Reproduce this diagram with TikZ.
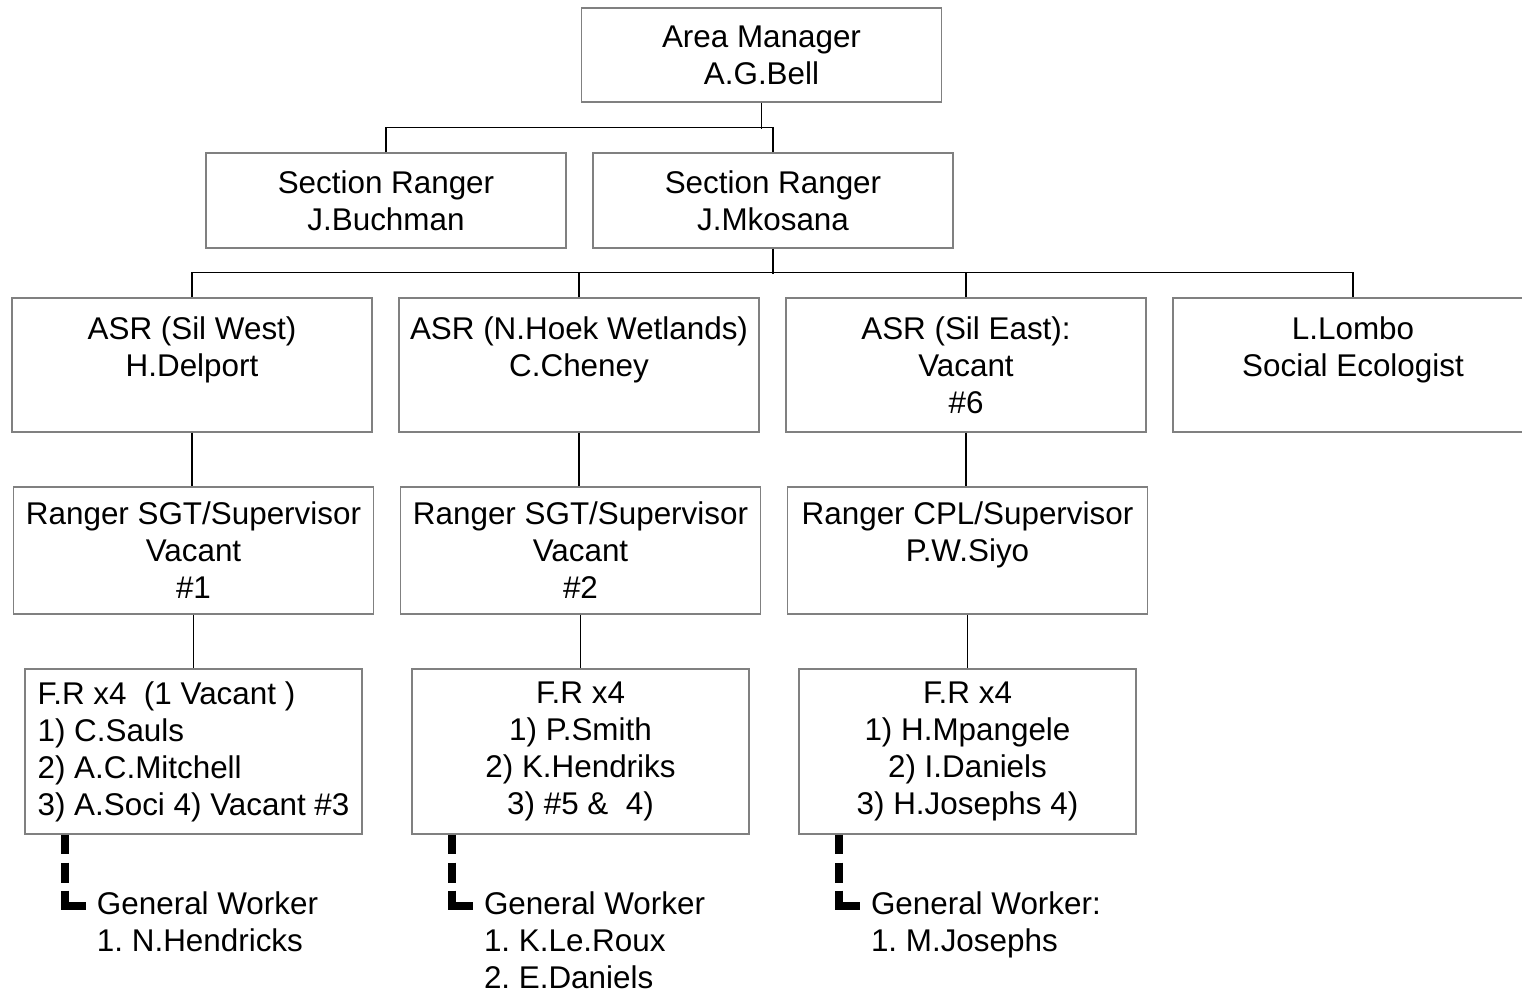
\documentclass[tikz,border=0pt]{standalone}
\usepackage{fontspec}
\setmainfont{Liberation Sans}
\usepackage{tikz}
\definecolor{boxgray}{RGB}{128,128,128}
\frenchspacing

\begin{document}
\begin{tikzpicture}[x=0.5pt, y=-0.5pt, node distance=193.5pt, line width=0.7pt,
	post/.style={draw=boxgray, align=center, inner sep=0pt, minimum width=180pt, font=\fontsize{15.7}{18.5}\selectfont},
	fr post/.style={post, minimum width=168.5pt, minimum height=82.5pt},
	worker/.style={anchor=north west, align=left, inner xsep=5pt, inner ysep=0pt, font=\fontsize{15.7}{18.5}\selectfont},
	worker line/.style={line width=4pt, dash pattern=on 9.5pt off 4.5pt on 10pt off 4pt on 60pt off 1pt}]

	\useasboundingbox (0,0) rectangle (1522,992);

	\node[post, minimum height=47pt] (am) at (761.5,55) {Area Manager\\A.G.Bell};

	\node[post, minimum height=47.5pt] (sr1) at (386,200.5) {Section Ranger\\J.Buchman};
	\node[post, minimum height=47.5pt] (sr2) [right of=sr1] {Section Ranger\\J.Mkosana};

	\node[post, minimum height=67pt] (asr1) at (192,365) {ASR (Sil West)\\H.Delport\\\mbox{}};
	\node[post, minimum height=67pt] (asr2) [right of=asr1] {ASR (N.Hoek Wetlands)\\C.Cheney\\\mbox{}};
	\node[post, minimum height=67pt] (asr3) [right of=asr2] {ASR (Sil East):\\Vacant\\\#6};
	\node[post, minimum height=67pt] (lombo) [right of=asr3] {L.Lombo\\Social Ecologist\\\mbox{}};

	\node[post, minimum height=63.5pt] (sgt1) at (193.5,550.5) {Ranger SGT/Supervisor\\Vacant\\\#1};
	\node[post, minimum height=63.5pt] (sgt2) [right of=sgt1] {Ranger SGT/Supervisor\\Vacant\\\#2};
	\node[post, minimum height=63.5pt] (sgt3) [right of=sgt2] {Ranger CPL/Supervisor\\P.W.Siyo\\\mbox{}};

	\node[fr post, align=left] (fr1) at (193.5,751.5) {F.R x4\ \ (1 Vacant )\\1) C.Sauls\\2) A.C.Mitchell\\3) A.Soci 4) Vacant \#3};
	\node[fr post] (fr2) [right of=fr1] {F.R x4\\1) P.Smith\\2) K.Hendriks\\3) \#5 \&\ \ 4)};
	\node[fr post] (fr3) [right of=fr2] {F.R x4\\1) H.Mpangele\\2) I.Daniels\\3) H.Josephs 4)};

	\node[worker] (gw1) at ([xshift=31pt,yshift=-28pt]fr1.south west) {General Worker\\1. N.Hendricks};
	\node[worker] (gw2) at ([xshift=31pt,yshift=-28pt]fr2.south west) {General Worker\\1. K.Le.Roux\\2. E.Daniels};
	\node[worker] (gw3) at ([xshift=31pt,yshift=-28pt]fr3.south west) {General Worker:\\1. M.Josephs};

	% area manager down to section rangers
	\draw (am.south) -- ++(0,26);
	\draw (sr1.north) -- ++(0,-25) -| (sr2.north);

	% section ranger down to the ASR row
	\draw (sr2.south) -- ++(0,25);
	\draw (asr1.north) -- ++(0,-25) -| (lombo.north);
	\foreach \n in {asr2,asr3}
		\draw (\n.north) -- ++(0,-25);

	% columns
	\foreach \a/\b in {asr1/sgt1, asr2/sgt2, asr3/sgt3, sgt1/fr1, sgt2/fr2, sgt3/fr3}
		\draw (\a.south) -- (\a.south |- \b.north);

	% general workers
	\foreach \f/\g in {fr1/gw1, fr2/gw2, fr3/gw3}
		\draw[worker line] ([xshift=20.5pt]\f.south west) |- ([yshift=-7.5pt]\g.north west);

\end{tikzpicture}
\end{document}
